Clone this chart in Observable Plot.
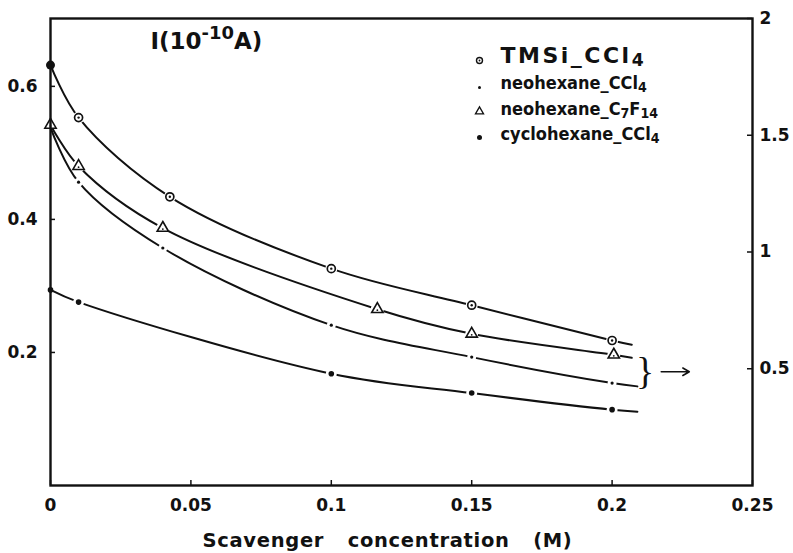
<!DOCTYPE html>
<html><head><meta charset="utf-8">
<script src="https://cdn.jsdelivr.net/npm/d3@7"></script>
<script src="https://cdn.jsdelivr.net/npm/@observablehq/plot@0.6"></script>
<style>
html,body{margin:0;padding:0;background:#fff;}
#chart{width:793px;height:553px;}
</style>
</head><body><div id="chart"></div>
<script>
// ---- data ----
const xTicks = [0, 0.05, 0.1, 0.15, 0.2, 0.25];
const leftTicks = [0.2, 0.4, 0.6];
const rightTicks = [0.5, 1, 1.5, 2];
const yLeftMax = 0.702;
const yRightMax = 2;

const seriesNames = ["TMSi_CCl_{4}", "neohexane_CCl_{4}", "neohexane_C_{7}F_{14}", "cyclohexane_CCl_{4}"];

const tmsiX = [0, 0.01, 0.0425, 0.1, 0.15, 0.2];
const tmsiY = [0.632, 0.553, 0.434, 0.326, 0.271, 0.218];

const neoCClX = [0, 0.01, 0.04, 0.1, 0.15, 0.2];
const neoCClY = [0.538, 0.456, 0.357, 0.241, 0.193, 0.154];

const neoC7F14X = [0, 0.01, 0.04, 0.1164, 0.15, 0.2006];
const neoC7F14Y = [0.542, 0.480, 0.387, 0.265, 0.228, 0.1965];

const cycloX = [0, 0.01, 0.1, 0.15, 0.2];
const cycloY = [0.294, 0.2757, 0.168, 0.139, 0.114];

// where each drawn curve stops (right end of the line)
const lineEndX = [0.207, 0.209, 0.207, 0.209];
const lineEndY = [0.2115, 0.149, 0.192, 0.111];

// bracket + arrow annotation (data units)
const bracketX = [0.2118];
const bracketY = [0.171];
const arrowX1 = [0.2175];
const arrowX2 = [0.2275];
const arrowY = [0.171];

const titleText = "I(10^{-10}A)";
const xLabel = "Scavenger concentration (M)";

// ---- build tables ----
const xs = [tmsiX, neoCClX, neoC7F14X, cycloX];
const ys = [tmsiY, neoCClY, neoC7F14Y, cycloY];
const points = [];
const lineData = [];
seriesNames.forEach((s, k) => {
  xs[k].forEach((x, i) => {
    const p = {series: s, k, x, y: ys[k][i]};
    points.push(p); lineData.push(p);
  });
  lineData.push({series: s, k, x: lineEndX[k], y: lineEndY[k]});
});
const ofSeries = (k, inner) => points.filter(d => d.k === k && (!inner || d.x > 0));

const FONT = "'DejaVu Sans', sans-serif";
const COND = "'DejaVu Sans Condensed', 'DejaVu Sans', sans-serif";
const ink = "#111";

const marks = [];
// curves
marks.push(Plot.line(lineData, {x: "x", y: "y", z: "series", curve: "catmull-rom", stroke: ink, strokeWidth: 2}));
// white gaps around markers
const haloR = [6, 4.5, 6.5, 5.5];
[0,1,2,3].forEach(k => marks.push(Plot.dot(ofSeries(k, true), {x: "x", y: "y", r: haloR[k], fill: "white", stroke: "none"})));
// markers: TMSi (circle with centre dot)
marks.push(Plot.dot(ofSeries(0, true), {x: "x", y: "y", r: 4, fill: "white", stroke: ink, strokeWidth: 1.7}));
marks.push(Plot.dot(ofSeries(0, true), {x: "x", y: "y", r: 1.2, fill: ink}));
marks.push(Plot.dot(ofSeries(0).filter(d => d.x === 0), {x: "x", y: "y", r: 4.5, fill: ink}));
// neohexane CCl4 (tiny dot)
marks.push(Plot.dot(ofSeries(1, true), {x: "x", y: "y", r: 1.6, fill: ink}));
// neohexane C7F14 (triangle with centre dot)
marks.push(Plot.dot(ofSeries(2), {x: "x", y: "y", symbol: "triangle", r: 4.2, fill: "white", stroke: ink, strokeWidth: 1.6}));
marks.push(Plot.dot(ofSeries(2), {x: "x", y: "y", r: 0.9, fill: ink, dy: 1}));
// cyclohexane (filled dot)
marks.push(Plot.dot(ofSeries(3), {x: "x", y: "y", r: 2.8, fill: ink}));

// bracket and arrow
marks.push(Plot.text(bracketX.map((x, i) => ({x, y: bracketY[i]})), {x: "x", y: "y", text: () => "}", fontSize: 38, fontWeight: "normal", fontFamily: "'Liberation Serif', serif", fill: ink}));
marks.push(Plot.arrow(arrowX1.map((x, i) => ({x1: x, x2: arrowX2[i], y: arrowY[i]})), {x1: "x1", x2: "x2", y1: "y", y2: "y", stroke: ink, strokeWidth: 1.6, headLength: 7}));

// frame
marks.push(Plot.frame({stroke: ink, strokeWidth: 2.4}));

// inward tick marks
marks.push(Plot.ruleX(xTicks, {x: d => d, insetTop: 462, stroke: ink, strokeWidth: 1.5}));
marks.push(Plot.ruleY(leftTicks, {y: d => d, insetRight: 697, stroke: ink, strokeWidth: 1.5}));
const rightPos = rightTicks.map(v => v * yLeftMax / yRightMax);
marks.push(Plot.ruleY(rightPos, {y: d => d, insetLeft: 697, stroke: ink, strokeWidth: 1.5}));

// axes
marks.push(Plot.axisX(xTicks, {anchor: "bottom", tickSize: 0, tickPadding: 13, tickFormat: d => String(d), label: null, fontSize: 17, fontWeight: "bold"}));
marks.push(Plot.axisY(leftTicks, {anchor: "left", tickSize: 0, tickPadding: 13, tickFormat: d => String(d), label: null, fontSize: 17, fontWeight: "bold"}));
marks.push(Plot.axisY(rightPos, {anchor: "right", tickSize: 0, tickPadding: 7, tickFormat: d => String(+(d * yRightMax / yLeftMax).toFixed(2)), label: null, fontSize: 17, fontWeight: "bold"}));

// title inside frame
marks.push(Plot.text([titleText], {text: d => d, frameAnchor: "top-left", dx: 100, dy: 30, lineAnchor: "bottom", textAnchor: "start", fontSize: 23, fontWeight: "bold", className: "rich"}));

// x label
marks.push(Plot.text([xLabel], {text: d => d, frameAnchor: "bottom-left", dx: 152, dy: 61, lineAnchor: "bottom", textAnchor: "start", fontSize: 19.5, fontWeight: "bold", className: "xlabel"}));

// legend (inside frame, top right)
const legSymDy = [42, 69, 93, 119];
const legTxtDy = [44, 70, 96, 121];
const legFont = [22, 18, 18, 18];
const legFamily = [FONT, COND, COND, COND];
marks.push(Plot.dot([0], {frameAnchor: "top-left", dx: 429, dy: legSymDy[0], r: 3, fill: "white", stroke: ink, strokeWidth: 1.4}));
marks.push(Plot.dot([0], {frameAnchor: "top-left", dx: 429, dy: legSymDy[0], r: 0.9, fill: ink}));
marks.push(Plot.dot([0], {frameAnchor: "top-left", dx: 429, dy: legSymDy[1], r: 1.5, fill: ink}));
marks.push(Plot.dot([0], {frameAnchor: "top-left", dx: 429, dy: legSymDy[2], symbol: "triangle", r: 3, fill: "white", stroke: ink, strokeWidth: 1.3}));
marks.push(Plot.dot([0], {frameAnchor: "top-left", dx: 429, dy: legSymDy[3], r: 2.5, fill: ink}));
seriesNames.forEach((s, k) => {
  marks.push(Plot.text([s], {text: d => d, frameAnchor: "top-left", dx: 450, dy: legTxtDy[k], lineAnchor: "bottom", textAnchor: "start", fontSize: legFont[k], fontWeight: "bold", fontFamily: legFamily[k], className: "rich leg" + k}));
});

const chart = Plot.plot({
  width: 793, height: 553,
  marginTop: 18, marginRight: 41, marginBottom: 68, marginLeft: 50,
  x: {domain: [0, 0.25], axis: null},
  y: {domain: [0, yLeftMax], axis: null},
  style: {fontFamily: FONT, background: "white", color: ink, overflow: "visible"},
  marks
});

// rich text (sub/superscripts)
function rich(textEl, subShift) {
  const s = textEl.textContent;
  const fsAttr = textEl.closest("[font-size]");
  const fs = fsAttr ? parseFloat(fsAttr.getAttribute("font-size")) : 16;
  while (textEl.firstChild) textEl.removeChild(textEl.firstChild);
  const parts = s.split(/(_\{[^}]*\}|\^\{[^}]*\})/).filter(p => p.length);
  let shift = 0;
  const NS = "http://www.w3.org/2000/svg";
  parts.forEach(p => {
    const t = document.createElementNS(NS, "tspan");
    let target = 0, content = p, small = false;
    if (p.startsWith("_{")) { target = fs * subShift; content = p.slice(2, -1); small = true; }
    else if (p.startsWith("^{")) { target = -fs * 0.42; content = p.slice(2, -1); small = true; }
    const dy = target - shift;
    if (dy !== 0) t.setAttribute("dy", dy);
    shift = target;
    if (small) t.setAttribute("font-size", fs * 0.78);
    t.textContent = content;
    textEl.appendChild(t);
  });
}
chart.querySelectorAll("g.rich text").forEach(t => rich(t, 0.18));
chart.querySelectorAll("g.leg0 text").forEach(t => { t.style.letterSpacing = "2.5px"; });
chart.querySelectorAll("g.xlabel text").forEach(t => { t.style.wordSpacing = "16px"; t.style.letterSpacing = "0.7px"; });
document.getElementById("chart").appendChild(chart);
</script>
</body></html>
